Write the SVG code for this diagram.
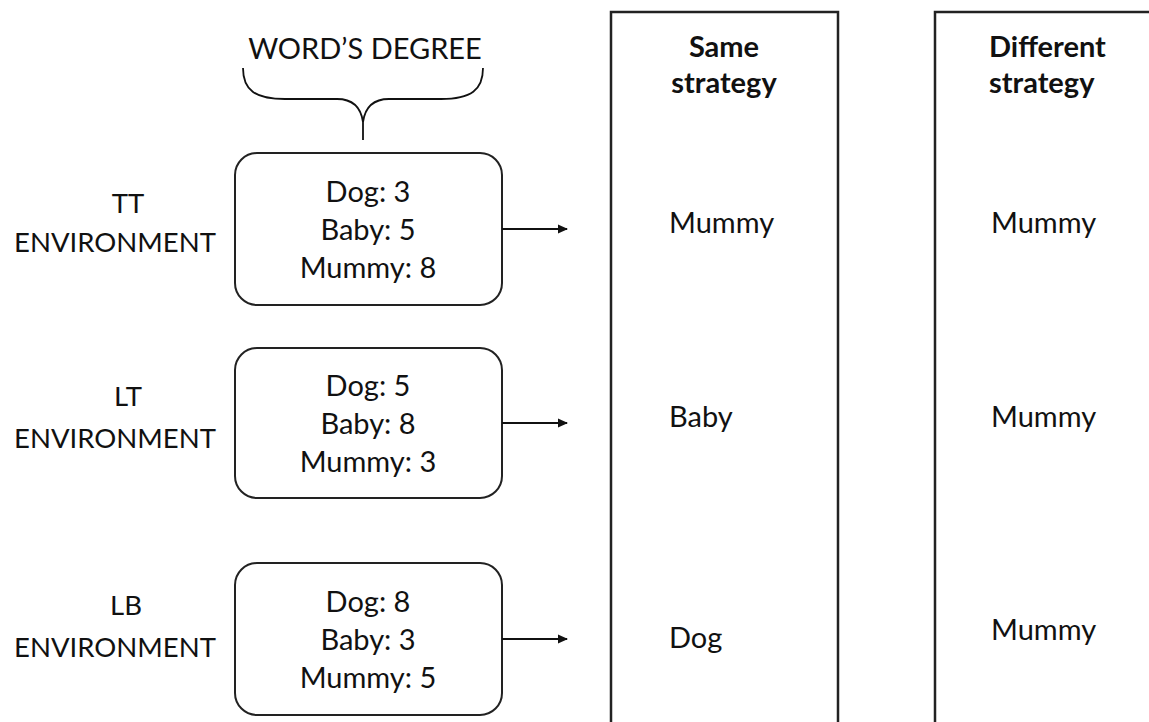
<svg xmlns="http://www.w3.org/2000/svg" width="1149" height="722" viewBox="0 0 1149 722">
<style>
text{font-family:Lato,"Liberation Sans",sans-serif;font-size:29px;fill:#111}
.c{text-anchor:middle}
.b{font-weight:bold}
.env{font-size:27.5px}
.box{fill:#fff;stroke:#222;stroke-width:2}
.col{fill:none;stroke:#222;stroke-width:2.5}
.conn{stroke:#111;stroke-width:1.8;fill:none}
</style>
<defs>
<marker id="ah" markerWidth="10" markerHeight="10" refX="9" refY="5" orient="auto" markerUnits="userSpaceOnUse">
<path d="M0,0.5 L10,5 L0,9.5 Z" fill="#111"/>
</marker>
</defs>
<rect width="1149" height="722" fill="#fff"/>
<g id="header">
<text class="c" x="365" y="59">WORD’S DEGREE</text>
<path class="conn" stroke-width="2.2" d="M243,68 C243,90 255,99 285,99 L337,99 C353,99 361,108 363,122 C365,108 373,99 389,99 L441,99 C471,99 483,90 483,68 M363,118 L363,140"/>
</g>
<g id="label-tt"><text class="c env" x="128" y="213">TT</text><text class="c env" x="115" y="252">ENVIRONMENT</text></g>
<g id="label-lt"><text class="c env" x="128" y="406">LT</text><text class="c env" x="115" y="448">ENVIRONMENT</text></g>
<g id="label-lb"><text class="c env" x="126" y="615">LB</text><text class="c env" x="115" y="657">ENVIRONMENT</text></g>
<g id="box-tt"><rect class="box" x="235" y="153" width="267" height="152" rx="22"/>
<text class="c" x="368" y="202">Dog: 3</text><text class="c" x="368" y="240">Baby: 5</text><text class="c" x="368" y="278">Mummy: 8</text></g>
<g id="box-lt"><rect class="box" x="235" y="348" width="267" height="150" rx="22"/>
<text class="c" x="368" y="396">Dog: 5</text><text class="c" x="368" y="434">Baby: 8</text><text class="c" x="368" y="472">Mummy: 3</text></g>
<g id="box-lb"><rect class="box" x="235" y="563" width="267" height="152" rx="22"/>
<text class="c" x="368" y="612">Dog: 8</text><text class="c" x="368" y="650">Baby: 3</text><text class="c" x="368" y="688">Mummy: 5</text></g>
<g id="col-same"><path class="col" d="M611,730 L611,12 L838,12 L838,730"/>
<text class="c b" x="724" y="57">Same</text><text class="c b" x="724" y="93">strategy</text>
<text x="669" y="233">Mummy</text><text x="669" y="427">Baby</text><text x="669" y="648">Dog</text></g>
<g id="col-different"><path class="col" d="M935,730 L935,12 L1160,12"/>
<text class="b" x="989" y="57">Different</text><text class="b" x="989" y="93">strategy</text>
<text x="991" y="233">Mummy</text><text x="991" y="427">Mummy</text><text x="991" y="640">Mummy</text></g>
<g id="connectors">
<line class="conn" x1="502" y1="229" x2="567" y2="229" marker-end="url(#ah)"/>
<line class="conn" x1="502" y1="423" x2="567" y2="423" marker-end="url(#ah)"/>
<line class="conn" x1="502" y1="639" x2="567" y2="639" marker-end="url(#ah)"/>
</g>
</svg>
